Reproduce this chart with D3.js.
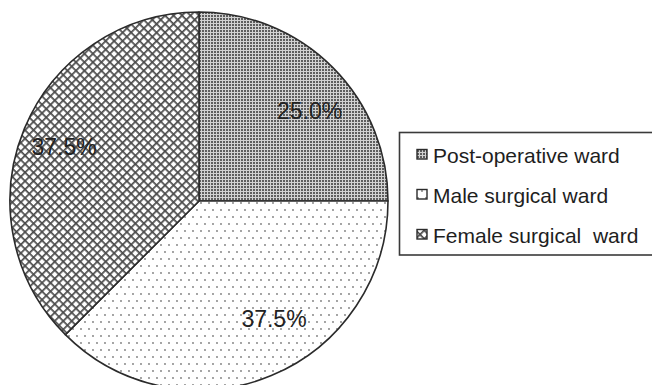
<!DOCTYPE html>
<html>
<head>
<meta charset="utf-8">
<script src="https://cdn.jsdelivr.net/npm/d3@7"></script>
<style>
  html, body { margin: 0; padding: 0; background: #fff; }
  svg { display: block; }
  text { font-family: "Liberation Sans", Arial, Helvetica, sans-serif; }
</style>
</head>
<body>
<svg id="chart" width="652" height="385"></svg>
<script>
// ---- data ----
const categories = ["Post-operative ward", "Male surgical ward", "Female surgical ward"];
const values = [25.0, 37.5, 37.5];
const valueLabels = ["25.0%", "37.5%", "37.5%"];
const legendLabels = ["Post-operative ward", "Male surgical ward", "Female surgical  ward"];

// ---- style ----
const patternIds = ["pPost", "pMale", "pFemale"];
const labelNudge = [[8, 20.5], [19.5, -8], [-1, 9.5]];

const svg = d3.select("#chart");
const W = 652, H = 385;
svg.append("rect").attr("width", W).attr("height", H).attr("fill", "#fff");

const defs = svg.append("defs");
// dense dotted pattern (post-operative)
const p1 = defs.append("pattern").attr("id", "pPost").attr("patternUnits", "userSpaceOnUse")
  .attr("width", 3).attr("height", 3);
p1.append("rect").attr("width", 3).attr("height", 3).attr("fill", "#d2d2d2");
p1.append("rect").attr("width", 2).attr("height", 2).attr("fill", "#5e5e5e");
// sparse dots (male)
const p2 = defs.append("pattern").attr("id", "pMale").attr("patternUnits", "userSpaceOnUse")
  .attr("width", 8).attr("height", 14);
p2.append("rect").attr("width", 8).attr("height", 14).attr("fill", "#fff");
p2.append("circle").attr("cx", 2).attr("cy", 2).attr("r", 0.9).attr("fill", "#7a7a7a");
p2.append("circle").attr("cx", 6).attr("cy", 9).attr("r", 0.9).attr("fill", "#7a7a7a");
// crosshatch (female)
const p3 = defs.append("pattern").attr("id", "pFemale").attr("patternUnits", "userSpaceOnUse")
  .attr("width", 6).attr("height", 6).attr("patternTransform", "rotate(45)");
p3.append("rect").attr("width", 6).attr("height", 6).attr("fill", "#fff");
p3.append("rect").attr("width", 1.7).attr("height", 6).attr("fill", "#4a4a4a");
p3.append("rect").attr("width", 6).attr("height", 1.7).attr("fill", "#4a4a4a");

// ---- pie ----
const cx = 199, cy = 201, R = 189;
const pie = d3.pie().sort(null).value(d => d)(values);
const arc = d3.arc().innerRadius(0).outerRadius(R);
const labelArc = d3.arc().innerRadius(145).outerRadius(145);

const g = svg.append("g").attr("transform", `translate(${cx},${cy})`);
g.selectAll("path.slice").data(pie).join("path")
  .attr("class", "slice")
  .attr("d", arc)
  .attr("fill", (d, i) => `url(#${patternIds[i]})`)
  .attr("stroke", "#2b2b2b")
  .attr("stroke-width", 1.6)
  .attr("stroke-linejoin", "round");

g.selectAll("text.lbl").data(pie).join("text")
  .attr("class", "lbl")
  .attr("x", (d, i) => labelArc.centroid(d)[0] + labelNudge[i][0])
  .attr("y", (d, i) => labelArc.centroid(d)[1] + labelNudge[i][1])
  .attr("text-anchor", "middle")
  .attr("font-size", 23)
  .attr("fill", "#222")
  .text((d, i) => valueLabels[i]);

// ---- legend ----
const legend = svg.append("g");
legend.append("rect")
  .attr("x", 399.5).attr("y", 132.5).attr("width", 270).attr("height", 122.5)
  .attr("fill", "#fff").attr("stroke", "#3a3a3a").attr("stroke-width", 1.6);

const rowY = d3.scalePoint().domain(categories).range([163, 243]);
const items = legend.selectAll("g.item").data(categories).join("g").attr("class", "item");
items.append("rect")
  .attr("x", 417).attr("y", d => rowY(d) - 13.5)
  .attr("width", 10).attr("height", 9.5)
  .attr("fill", (d, i) => `url(#${patternIds[i]})`)
  .attr("stroke", "#2b2b2b").attr("stroke-width", 1.4);
items.append("text")
  .attr("x", 433).attr("y", d => rowY(d))
  .attr("font-size", 21)
  .attr("fill", "#1e1e1e")
  .style("white-space", "pre")
  .attr("xml:space", "preserve")
  .text((d, i) => legendLabels[i]);
</script>
</body>
</html>
